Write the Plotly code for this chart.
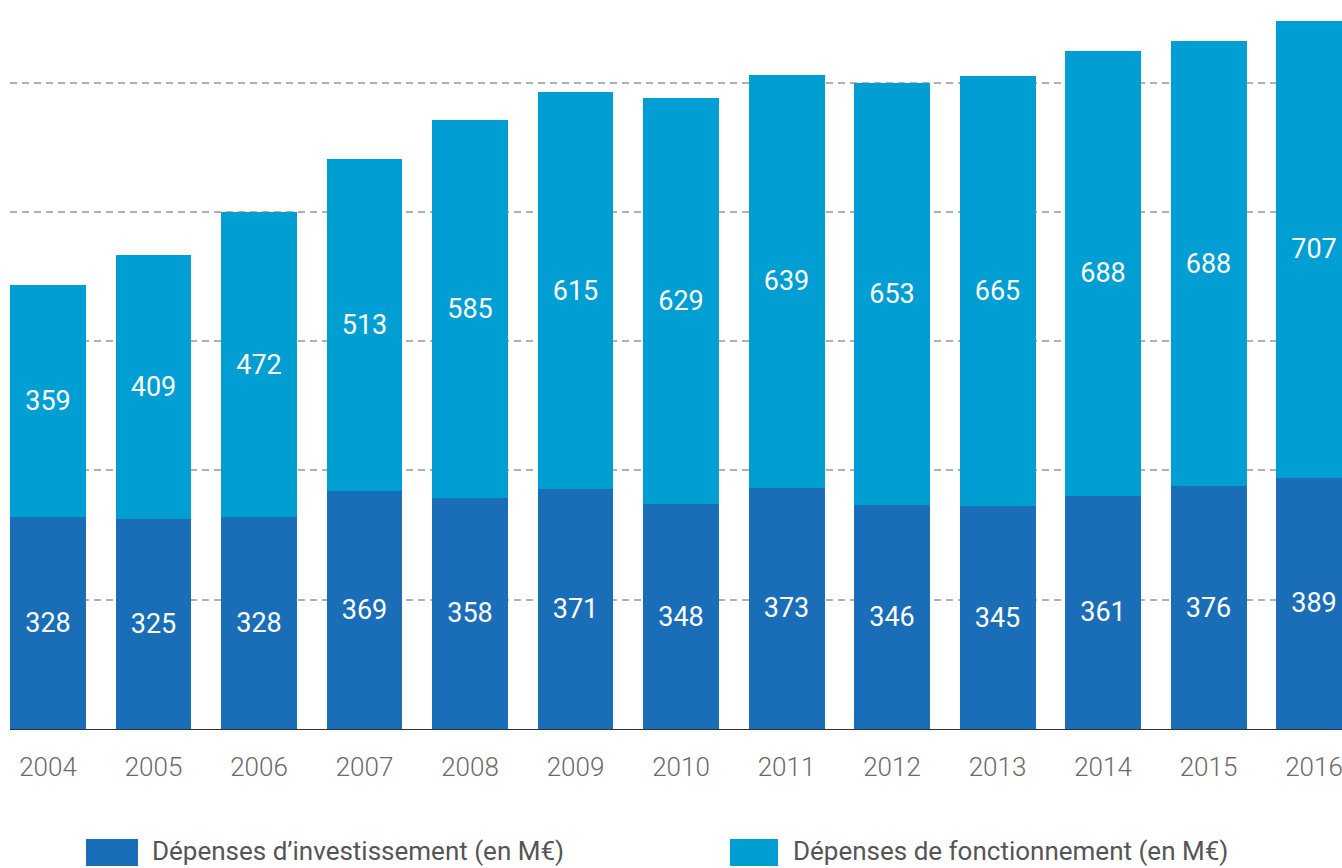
import plotly.graph_objects as go

years = ["2004", "2005", "2006", "2007", "2008", "2009", "2010",
         "2011", "2012", "2013", "2014", "2015", "2016"]
investissement = [328, 325, 328, 369, 358, 371, 348, 373, 346, 345, 361, 376, 389]
fonctionnement = [359, 409, 472, 513, 585, 615, 629, 639, 653, 665, 688, 688, 707]
series_names = ["Dépenses d’investissement (en M€)", "Dépenses de fonctionnement (en M€)"]
colors = ["#1a6eb7", "#009ed2"]

W, H = 1342, 868
ML, MR, MT, MB = 10, 0, 0, 139
PW, PH = W - ML - MR, H - MT - MB

label_font = dict(family="Roboto", size=27, color="white")

fig = go.Figure()
for name, vals, col in zip(series_names, [investissement, fonctionnement], colors):
    fig.add_trace(go.Bar(
        x=years, y=vals, name=name, marker=dict(color=col, line=dict(width=0)),
        text=[str(v) for v in vals], textposition="inside",
        insidetextanchor="middle", textfont=label_font, textangle=0,
        showlegend=False, hoverinfo="skip",
    ))

fig.update_layout(
    width=W, height=H, barmode="stack", bargap=0.28,
    margin=dict(l=ML, r=MR, t=MT, b=MB),
    plot_bgcolor="white", paper_bgcolor="white",
    uniformtext=dict(minsize=10, mode="show"),
    xaxis=dict(type="category", range=[-0.36, 12.265], showgrid=False,
               tickfont=dict(family="Roboto", size=26, color="#6a6a6a", weight=300),
               ticks="", ticklabelstandoff=20, showline=False, zeroline=False),
    yaxis=dict(range=[0, 1128], tickvals=[200, 400, 600, 800, 1000],
               showticklabels=False, showgrid=True, gridcolor="#b0b0b0",
               gridwidth=1.5, griddash="7px,5px", zeroline=True,
               zerolinecolor="#333333", zerolinewidth=1),
    showlegend=False,
)

# legend drawn manually (large swatches)
def px_x(p):
    return (p - ML) / PW

def px_y(p):
    return (MT + PH - p) / PH

legend_items = [(86, 138, 150), (730, 778, 791)]
for (x0, x1, tx), name, col in zip(legend_items, series_names, colors):
    fig.add_shape(type="rect", xref="paper", yref="paper",
                  x0=px_x(x0), x1=px_x(x1), y0=px_y(866), y1=px_y(839),
                  fillcolor=col, line=dict(width=0))
    fig.add_annotation(xref="paper", yref="paper", x=px_x(tx), y=px_y(851),
                       xanchor="left", yanchor="middle", showarrow=False,
                       text=name, font=dict(family="Roboto", size=26, color="#555555"))

fig.write_html("out.html", config={"displayModeBar": False},
               post_script="document.body.style.margin='0';document.body.style.overflow='hidden';")
